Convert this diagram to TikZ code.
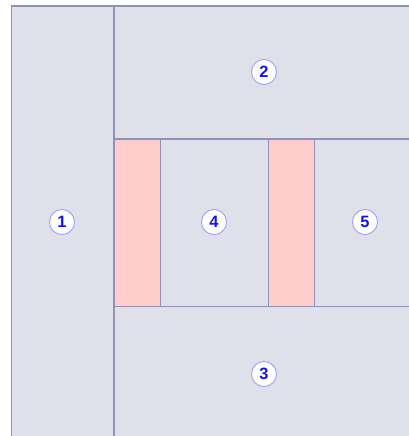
\documentclass[tikz,border=0pt]{standalone}
\usepackage{fontspec}
\setmainfont{Liberation Sans}
\usetikzlibrary{positioning}
\definecolor{roomgray}{RGB}{224,224,235}
\definecolor{roompink}{RGB}{255,204,204}
\definecolor{wallline}{RGB}{145,145,185}
\definecolor{tagblue}{RGB}{20,20,230}
\definecolor{tagring}{RGB}{150,150,255}
\tikzstyle{room}=[fill=roomgray, draw=wallline, line width=0.9pt]
\tikzstyle{gap}=[fill=roompink, draw=wallline, line width=0.9pt]
\tikzstyle{roomno}=[circle, fill=white, draw=tagring, line width=0.7pt, minimum size=0.75cm, inner sep=0pt, text=tagblue, font=\bfseries\fontsize{14}{14}\selectfont]

\begin{document}
\begin{tikzpicture}[x=0.03cm, y=-0.03cm]
    \useasboundingbox (0, 0) rectangle (409, 436) ;
    \clip (0, 0) rectangle (409, 436) ;
    % rooms
    \draw[room] (11.5, 6) rectangle (114, 445) ;
    \draw[room] (114, 6) rectangle (415, 139) ;
    \draw[room] (114, 306.5) rectangle (415, 445) ;
    \draw[room] (160.5, 139) rectangle (268.5, 306.5) ;
    \draw[room] (314.5, 139) rectangle (415, 306.5) ;
    \draw[gap] (114, 139) rectangle (160.5, 306.5) ;
    \draw[gap] (268.5, 139) rectangle (314.5, 306.5) ;
    % numbers
    \node[roomno] (r1) at (62, 222) {1} ;
    \node[roomno] (r2) at (264, 72) {2} ;
    \node[roomno] (r3) at (264, 374) {3} ;
    \node[roomno] (r4) at (214, 222) {4} ;
    \node[roomno] (r5) at (365, 222) {5} ;
\end{tikzpicture}
\end{document}
